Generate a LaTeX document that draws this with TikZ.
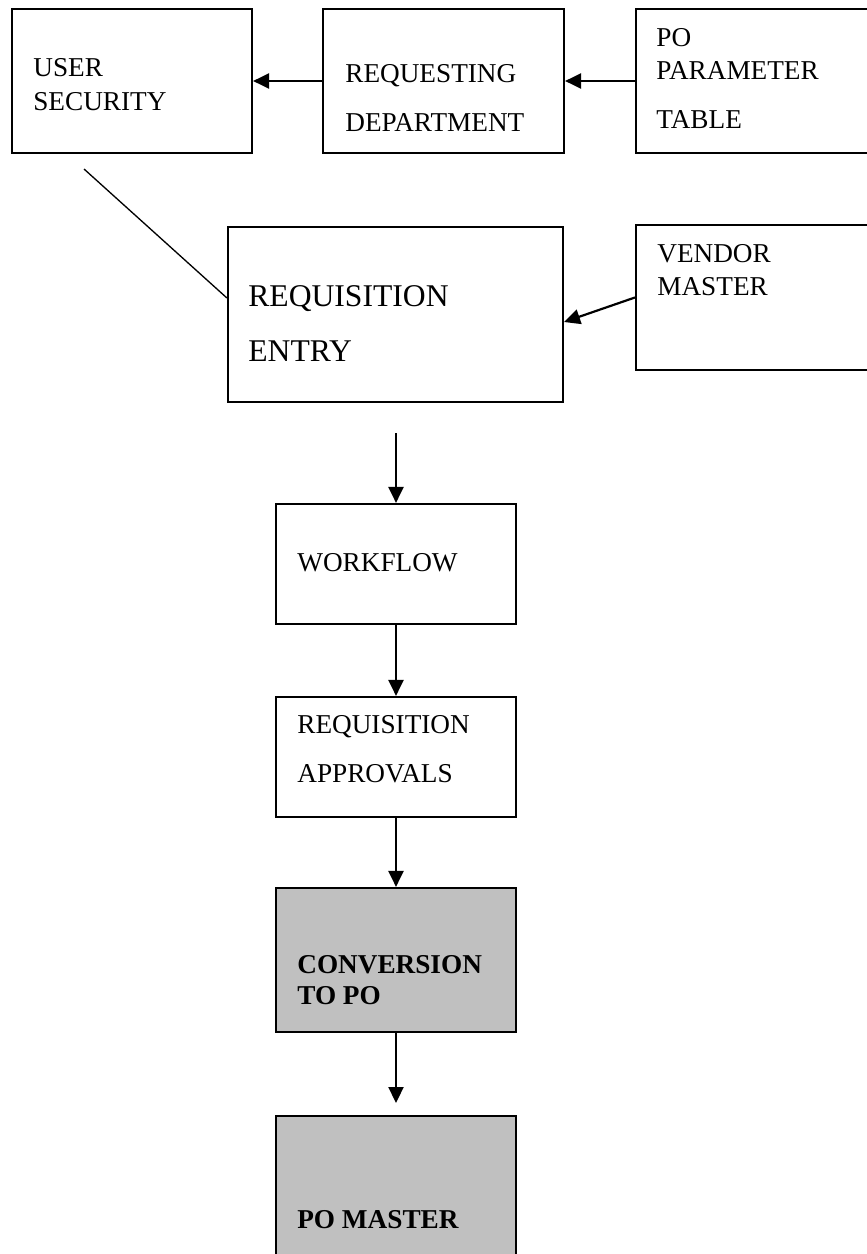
\documentclass[tikz,border=0pt]{standalone}
\usepackage{fontspec}
\setmainfont{Liberation Serif}
\usetikzlibrary{arrows.meta}
\definecolor{boxgrey}{HTML}{C0C0C0}
\tikzset{block/.style={draw, rectangle, line width=1.25pt, inner sep=0pt},
  flow/.style={line width=1.25pt, -{Triangle[length=0.32cm, width=0.3cm]}},
  lbl/.style={anchor=base west, inner sep=0pt, font=\fontsize{15.5}{18}\selectfont},
  biglbl/.style={lbl, font=\fontsize{18}{21}\selectfont},
  boldlbl/.style={lbl, font=\fontsize{15.5}{18}\selectfont\bfseries}}

\begin{document}
\begin{tikzpicture}[x=0.02cm, y=-0.02cm]
    \useasboundingbox (0,0) rectangle (866,1254);
    % top row
    \node[block, minimum width=4.8cm, minimum height=2.88cm] (usersec) at (132,81) {};
    \node[block, minimum width=4.82cm, minimum height=2.88cm] (reqdept) at (443.5,81) {};
    \node[block, minimum width=4.88cm, minimum height=2.88cm] (potable) at (758,81) {};
    \node[lbl] (usersecA) at (33,76) {USER};
    \node[lbl] (usersecB) at (33,110) {SECURITY};
    \node[lbl] (reqdeptA) at (345,82) {REQUESTING};
    \node[lbl] (reqdeptB) at (345,131) {DEPARTMENT};
    \node[lbl] (potableA) at (656,46) {PO};
    \node[lbl] (potableB) at (656,79) {PARAMETER};
    \node[lbl] (potableC) at (656,128) {TABLE};
    \draw[flow] (reqdept.west) -- (usersec.east);
    \draw[flow] (potable.west) -- (reqdept.east);

    % entry and vendor
    \node[block, minimum width=6.7cm, minimum height=3.5cm] (reqentry) at (395.5,314.5) {};
    \node[block, minimum width=4.88cm, minimum height=2.9cm] (vendor) at (758,297.5) {};
    \node[biglbl] (reqentryA) at (248,306) {REQUISITION};
    \node[biglbl] (reqentryB) at (248,361) {ENTRY};
    \node[lbl] (vendorA) at (657,262) {VENDOR};
    \node[lbl] (vendorB) at (657,295) {MASTER};
    \coordinate (seclink) at (84,169);
    \draw[line width=0.75pt] (seclink) -- ([yshift=0.33cm]reqentry.west);
    \draw[flow] (vendor.west) -- ([yshift=-0.15cm]reqentry.east);

    % main chain
    \node[block, minimum width=4.8cm, minimum height=2.4cm] (workflow) at (396,564) {};
    \node[block, minimum width=4.8cm, minimum height=2.4cm] (approvals) at (396,757) {};
    \node[block, fill=boxgrey, minimum width=4.8cm, minimum height=2.88cm] (convert) at (396,960) {};
    \node[block, fill=boxgrey, minimum width=4.8cm, minimum height=2.88cm] (pomaster) at (396,1188) {};
    \node[lbl] (workflowA) at (297,571) {WORKFLOW};
    \node[lbl] (approvalsA) at (297,733) {REQUISITION};
    \node[lbl] (approvalsB) at (297,782) {APPROVALS};
    \node[boldlbl] (convertA) at (297,973) {CONVERSION};
    \node[boldlbl] (convertB) at (297,1004) {TO PO};
    \node[boldlbl] (pomasterA) at (297,1228) {PO MASTER};
    \coordinate (entryout) at (396,433);
    \coordinate (convout) at (396,1103);
    \draw[flow] (entryout) -- (workflow.north);
    \draw[flow] (workflow.south) -- (approvals.north);
    \draw[flow] (approvals.south) -- (convert.north);
    \draw[flow] (convert.south) -- (convout);
\end{tikzpicture}
\end{document}
